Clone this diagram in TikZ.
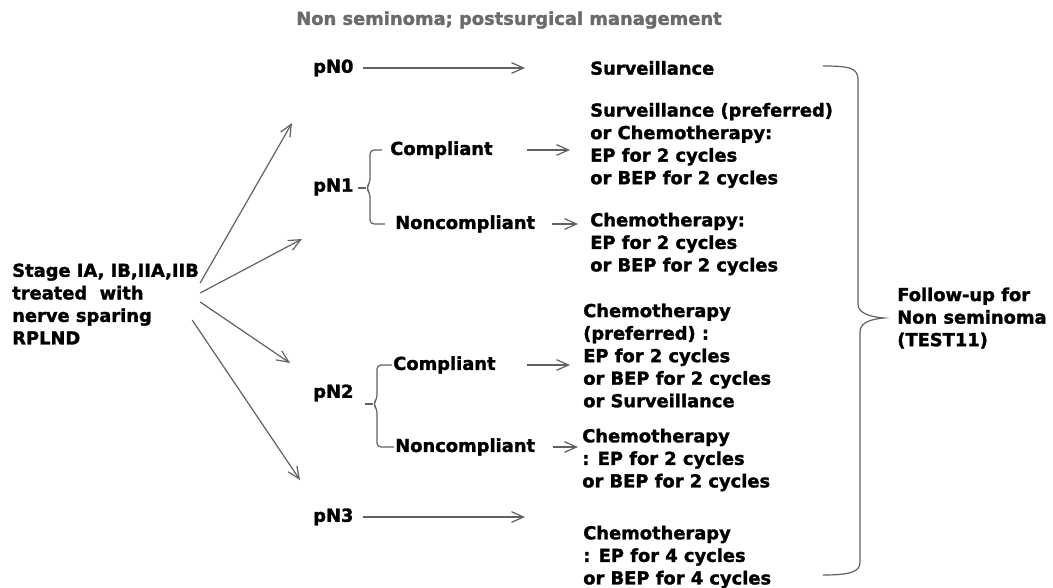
\documentclass[tikz,border=0pt]{standalone}
\usepackage{fontspec}
\setmainfont{DejaVu Sans}[BoldFeatures={FakeBold=1.6}]
\usepackage{tikz}
\usetikzlibrary{calc,arrows.meta}
\newcommand{\linecolor}{black!62}
\newcommand{\titlecolor}{black!58}
\newcommand{\thickness}{0.9pt}

\begin{document}
\begin{tikzpicture}[x=0.75pt,y=-0.75pt,
  txt/.style={anchor=west,inner sep=0pt,align=left,font=\fontsize{13.4}{16.9}\selectfont\bfseries},
  arr/.style={draw=\linecolor,line width=\thickness,-{Straight Barb[length=9pt,width=8pt]}},
  brace/.style={draw=\linecolor,line width=\thickness,rounded corners=3pt}]
\useasboundingbox (0,0) rectangle (1053,588);
\node[txt,text=\titlecolor] (title) at (509,20) [anchor=center] {Non seminoma; postsurgical management};
\node[txt] (stage) at (12,304) {Stage IA, IB,IIA,IIB\\treated~ with\\nerve sparing\\RPLND};
\node[txt] (pn0) at (313,68) {pN0};
\node[txt] (surv) at (590,68) {Surveillance};
\node[txt] (pn1) at (313,187) {pN1};
\node[txt] (comp1) at (390,150) {Compliant};
\node[txt] (ncomp1) at (395,224) {Noncompliant};
\node[txt] (rec1) at (590,145.5) {Surveillance (preferred)\\or Chemotherapy:\\EP for 2 cycles\\or BEP for 2 cycles};
\node[txt] (rec2) at (590,244) {Chemotherapy:\\EP for 2 cycles\\or BEP for 2 cycles};
\node[txt] (pn2) at (313,393) {pN2};
\node[txt] (comp2) at (393,365) {Compliant};
\node[txt] (ncomp2) at (395,447) {Noncompliant};
\node[txt] (rec3) at (583,355.5) {Chemotherapy\\(preferred) :\\EP for 2 cycles\\or BEP for 2 cycles\\or Surveillance};
\node[txt] (rec4) at (582,460) {Chemotherapy\\: EP for 2 cycles\\or BEP for 2 cycles};
\node[txt] (pn3) at (313,517) {pN3};
\node[txt] (rec5) at (583,557) {Chemotherapy\\: EP for 4 cycles\\or BEP for 4 cycles};
\coordinate (k3) at (884,318);
\node[txt] (follow) at ($(k3)+(13,0)$) {Follow-up for\\Non seminoma\\(TEST11)};
%stage
\coordinate (a1) at (292,123);
\coordinate (a2) at (302,239);
\coordinate (a3) at (290,363);
\coordinate (a4) at (300,480);
\draw[arr] ($(stage.east)+(1,-21)$) -- (a1);
\draw[arr] ($(stage.east)+(1,-11)$) -- (a2);
\draw[arr] ($(stage.east)+(1,-2)$) -- (a3);
\draw[arr] ($(stage.east)+(-7,16)$) -- (a4);
%pN0
\draw[arr] ($(pn0.east -| surv.west)+(-227,0)$) -- ($(pn0.east -| surv.west)+(-65,0)$);
%pN1
\coordinate (k1) at (366,188);
\draw[brace] ($(pn1.east |- k1)+(4,0)$) -- (k1);
\draw[brace] ($(comp1.west)+(-8,0)$) -| ($(k1)+(4,-5)$) -- (k1) -- ($(k1)+(4,5)$) |- ($(ncomp1.west)+(-10,0)$);
\draw[arr] ($(comp1.east -| rec1.west)+(-63,0)$) -- ($(comp1.east -| rec1.west)+(-20,0)$);
\draw[arr] ($(ncomp1.east -| rec2.west)+(-38,0)$) -- ($(ncomp1.east -| rec2.west)+(-12,0)$);
%pN2
\coordinate (k2) at (373,404);
\draw[brace] ($(pn2.east |- k2)+(11,0)$) -- (k2);
\draw[brace] ($(comp2.west)+(-1,0)$) -| ($(k2)+(4,-5)$) -- (k2) -- ($(k2)+(4,5)$) |- ($(ncomp2.west)+(-1,0)$);
\draw[arr] ($(comp2.east -| rec3.west)+(-56,0)$) -- ($(comp2.east -| rec3.west)+(-13,0)$);
\draw[arr] ($(ncomp2.east -| rec4.west)+(-29,0)$) -- ($(ncomp2.east -| rec4.west)+(-4,0)$);
%pN3
\draw[arr] ($(pn3.east -| rec5.west)+(-220,0)$) -- ($(pn3.east -| rec5.west)+(-58,0)$);
%follow-up
\draw[draw=\linecolor,line width=\thickness] (823,66) .. controls (850,66) and (858,68) .. (858,80) -- (858,304)
  .. controls (858,314) and (872,317) .. (k3) .. controls (872,319) and (860,322) .. (860,332) -- (860,562)
  .. controls (860,572) and (850,575) .. (823,575);
\end{tikzpicture}
\end{document}
